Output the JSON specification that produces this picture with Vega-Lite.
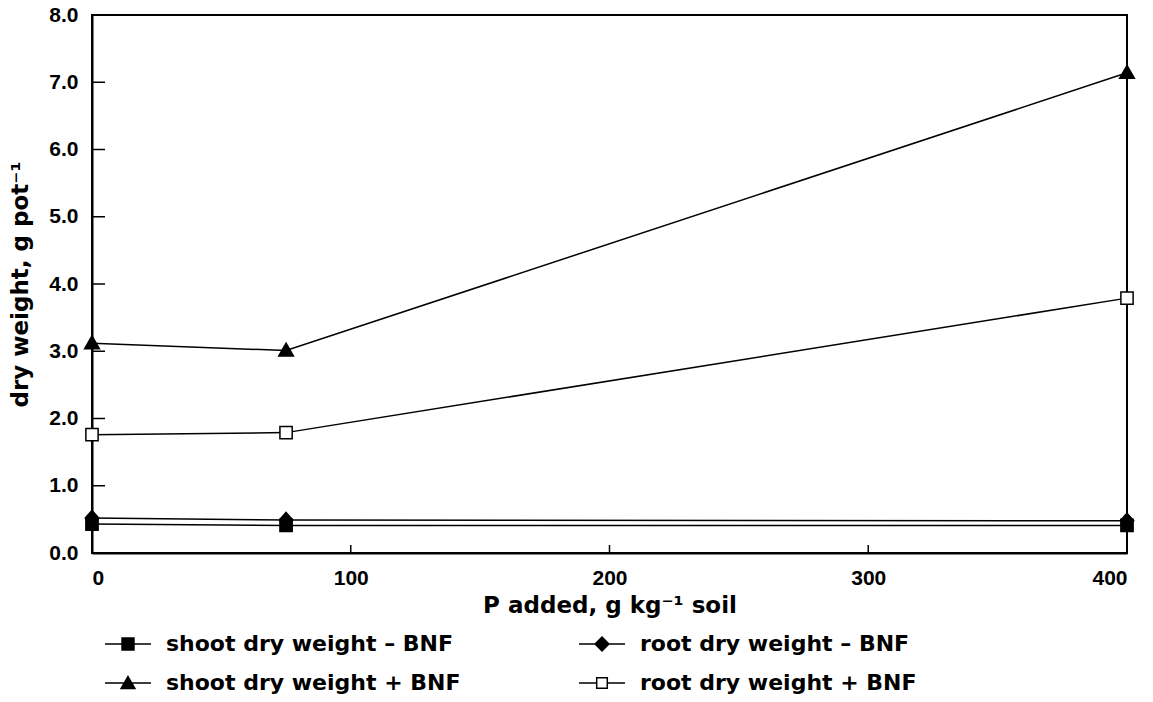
{
  "$schema": "https://vega.github.io/schema/vega-lite/v6.json",
  "width": 1035,
  "height": 538,
  "autosize": {"type": "none"},
  "padding": {"left": 92, "top": 15, "right": 26, "bottom": 149},
  "background": "white",
  "config": {
    "font": "Liberation Sans",
    "view": {"stroke": "black", "strokeWidth": 2},
    "axis": {
      "grid": false,
      "domainColor": "black",
      "domainWidth": 2,
      "tickColor": "black",
      "tickWidth": 1.5,
      "labelFont": "Liberation Sans",
      "labelFontWeight": "bold",
      "labelFontSize": 21,
      "labelColor": "black",
      "titleFont": "DejaVu Sans",
      "titleFontWeight": "bold",
      "titleFontSize": 23,
      "titleColor": "black"
    }
  },
  "datasets": {
    "weights": [
      {"series": "shoot dry weight – BNF", "p": 0, "dw": 0.43},
      {"series": "shoot dry weight – BNF", "p": 75, "dw": 0.41},
      {"series": "shoot dry weight – BNF", "p": 400, "dw": 0.41},
      {"series": "root dry weight – BNF", "p": 0, "dw": 0.52},
      {"series": "root dry weight – BNF", "p": 75, "dw": 0.49},
      {"series": "root dry weight – BNF", "p": 400, "dw": 0.48},
      {"series": "shoot dry weight + BNF", "p": 0, "dw": 3.12},
      {"series": "shoot dry weight + BNF", "p": 75, "dw": 3.01},
      {"series": "shoot dry weight + BNF", "p": 400, "dw": 7.14},
      {"series": "root dry weight + BNF", "p": 0, "dw": 1.76},
      {"series": "root dry weight + BNF", "p": 75, "dw": 1.79},
      {"series": "root dry weight + BNF", "p": 400, "dw": 3.79}
    ],
    "yticks": [{"dw": 1}, {"dw": 2}, {"dw": 3}, {"dw": 4}, {"dw": 5}, {"dw": 6}, {"dw": 7}],
    "xticks": [{"p": 100}, {"p": 200}, {"p": 300}]
  },
  "layer": [
    {
      "data": {"name": "weights"},
      "mark": {"type": "line", "color": "black", "strokeWidth": 1.5},
      "encoding": {
        "x": {
          "field": "p", "type": "quantitative",
          "scale": {"domain": [0, 400], "nice": false},
          "axis": {"orient": "bottom", "values": [0, 100, 200, 300, 400], "ticks": false, "labelPadding": 14, "title": "P added, g kg⁻¹ soil", "titlePadding": 6}
        },
        "y": {
          "field": "dw", "type": "quantitative",
          "scale": {"domain": [0, 8], "nice": false},
          "axis": {"orient": "left", "values": [0, 1, 2, 3, 4, 5, 6, 7, 8], "ticks": false, "labelPadding": 14, "title": "dry weight, g pot⁻¹", "titlePadding": 16}
        },
        "detail": {"field": "series"}
      }
    },
    {
      "data": {"name": "yticks"},
      "mark": {"type": "tick", "orient": "horizontal", "color": "black", "size": 13, "thickness": 1.5, "xOffset": 6.5, "opacity": 1},
      "encoding": {
        "x": {"datum": 0, "type": "quantitative"},
        "y": {"field": "dw", "type": "quantitative"}
      }
    },
    {
      "data": {"name": "xticks"},
      "mark": {"type": "tick", "orient": "vertical", "color": "black", "size": 8, "thickness": 1.5, "yOffset": -4, "opacity": 1},
      "encoding": {
        "x": {"field": "p", "type": "quantitative"},
        "y": {"datum": 0, "type": "quantitative"}
      }
    },
    {
      "data": {"name": "weights"},
      "mark": {"type": "point", "filled": true, "stroke": "black", "strokeWidth": 1.5, "opacity": 1},
      "encoding": {
        "x": {"field": "p", "type": "quantitative"},
        "y": {"field": "dw", "type": "quantitative"},
        "shape": {
          "field": "series",
          "scale": {
            "domain": ["shoot dry weight – BNF", "root dry weight – BNF", "shoot dry weight + BNF", "root dry weight + BNF"],
            "range": ["M-0.5,-0.5H0.5V0.5H-0.5Z", "M0,-0.62L0.55,0L0,0.62L-0.55,0Z", "M0,-0.6L0.6,0.45H-0.6Z", "M-0.5,-0.5H0.5V0.5H-0.5Z"]
          },
          "legend": null
        },
        "fill": {
          "field": "series",
          "scale": {
            "domain": ["shoot dry weight – BNF", "root dry weight – BNF", "shoot dry weight + BNF", "root dry weight + BNF"],
            "range": ["black", "black", "black", "white"]
          },
          "legend": null
        },
        "size": {"value": 600}
      }
    },
    {
      "data": {"name": "weights"},
      "mark": {"type": "point", "opacity": 0, "filled": false, "color": "black", "strokeWidth": 1.5},
      "encoding": {
        "x": {"field": "p", "type": "quantitative"},
        "y": {"field": "dw", "type": "quantitative"},
        "shape": {
          "field": "series",
          "scale": {
            "domain": ["shoot dry weight – BNF", "root dry weight – BNF", "shoot dry weight + BNF", "root dry weight + BNF"],
            "range": [
              "M-1,0H1M-0.26,-0.26H0.26V0.26H-0.26ZM-0.26,-0.2H0.26M-0.26,-0.15H0.26M-0.26,-0.1H0.26M-0.26,-0.05H0.26M-0.26,0.05H0.26M-0.26,0.1H0.26M-0.26,0.15H0.26M-0.26,0.2H0.26",
              "M-1,0H1M0,-0.3L0.3,0L0,0.3L-0.3,0ZM-0.05,-0.25H0.05M-0.1,-0.2H0.1M-0.15,-0.15H0.15M-0.2,-0.1H0.2M-0.25,-0.05H0.25M-0.25,0.05H0.25M-0.2,0.1H0.2M-0.15,0.15H0.15M-0.1,0.2H0.1M-0.05,0.25H0.05",
              "M-1,0H1M0,-0.28L0.3,0.24H-0.3ZM-0.05,-0.2H0.05M-0.075,-0.15H0.075M-0.1,-0.1H0.1M-0.13,-0.05H0.13M-0.19,0.05H0.19M-0.22,0.1H0.22M-0.25,0.15H0.25M-0.28,0.2H0.28",
              "M-1,0H-0.23M0.23,0H1M-0.23,-0.23H0.23V0.23H-0.23Z"
            ]
          },
          "legend": {
            "title": null,
            "orient": "none",
            "legendX": 12,
            "legendY": 605,
            "columns": 2,
            "direction": "horizontal",
            "symbolSize": 2116,
            "symbolStrokeWidth": 1.5,
            "symbolStrokeColor": "black",
            "symbolOpacity": 1,
            "labelFont": "DejaVu Sans",
            "labelFontWeight": "bold",
            "labelFontSize": 22,
            "labelColor": "black",
            "labelOffset": 14,
            "labelLimit": 500,
            "columnPadding": 115,
            "rowPadding": 4
          }
        },
        "size": {"value": 2116}
      }
    }
  ],
  "resolve": {
    "scale": {"shape": "independent"},
    "legend": {"shape": "independent"}
  }
}
